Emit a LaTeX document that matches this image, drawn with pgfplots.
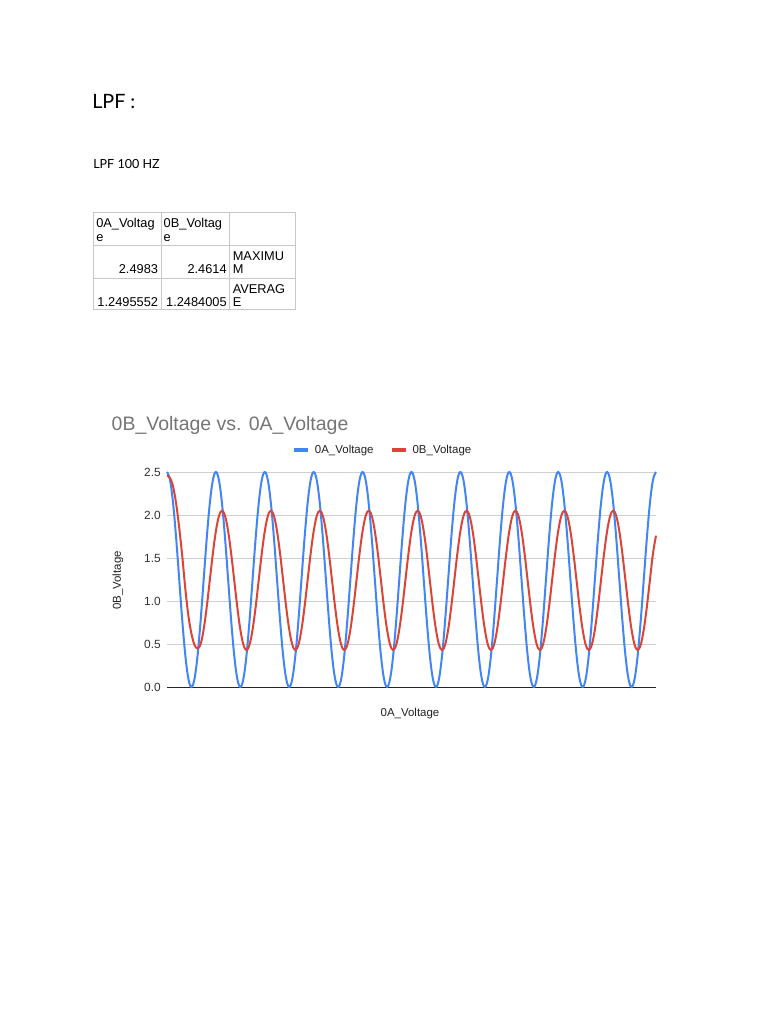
\documentclass[border=0pt]{standalone}
\usepackage{pgfplots}
\pgfplotsset{compat=1.18}
\usepackage{fontspec}
\setmainfont{Liberation Sans}
\newfontfamily\latofont{Lato}

\definecolor{gblue}{HTML}{4285F4}
\definecolor{gred}{HTML}{DB4437}
\definecolor{gridgray}{HTML}{D0D0D0}
\definecolor{titlegray}{HTML}{757575}
\definecolor{labelgray}{HTML}{222222}
\definecolor{tickgray}{HTML}{333333}
\definecolor{cellline}{HTML}{C8C8C8}

\newcommand{\chartfont}{\fontsize{8.6pt}{10pt}\selectfont}
\newcommand{\cellfont}{\fontsize{9.6pt}{11pt}\selectfont}

\begin{document}
\begin{tikzpicture}
% page (1px = 0.75pt, y downwards negative)
\path[fill=white] (0pt,0pt) rectangle (576pt,-768pt);

% headings
\node[anchor=base west, inner sep=0pt, font=\latofont\fontsize{14.8pt}{17pt}\selectfont] at (69pt,-81.25pt) {LPF :};
\node[anchor=base west, inner sep=0pt, font=\latofont\fontsize{9.4pt}{11pt}\selectfont] at (69.75pt,-126.25pt) {LPF 100 HZ};

% summary table
\begin{scope}[draw=cellline, line width=0.6pt]
  \draw (70pt,-159pt) rectangle (221.25pt,-231.75pt);
  \draw (120.75pt,-159pt) -- (120.75pt,-231.75pt);
  \draw (172pt,-159pt) -- (172pt,-231.75pt);
  \draw (70pt,-184.25pt) -- (221.25pt,-184.25pt);
  \draw (70pt,-209pt) -- (221.25pt,-209pt);
\end{scope}
\begin{scope}[every node/.style={inner sep=0pt, font=\cellfont}]
  \node[anchor=base west] at (72pt,-170.6pt) {0A\_Voltag};
  \node[anchor=base west] at (72pt,-180.8pt) {e};
  \node[anchor=base west] at (122.6pt,-170.6pt) {0B\_Voltag};
  \node[anchor=base west] at (122.6pt,-180.8pt) {e};
  \node[anchor=base west] at (174.4pt,-195.3pt) {MAXIMU};
  \node[anchor=base west] at (174.4pt,-205.2pt) {M};
  \node[anchor=base east] at (118.7pt,-205.2pt) {2.4983};
  \node[anchor=base east] at (170.2pt,-205.2pt) {2.4614};
  \node[anchor=base west] at (174.4pt,-220pt) {AVERAG};
  \node[anchor=base west] at (174.4pt,-229.8pt) {E};
  \node[anchor=base east] at (118.7pt,-229.8pt) {1.2495552};
  \node[anchor=base east] at (170.2pt,-229.8pt) {1.2484005};
\end{scope}

% chart texts
\node[anchor=base west, inner sep=0pt, text=titlegray, font=\fontsize{14.6pt}{17pt}\selectfont] at (83.6pt,-322.5pt) {0B\_Voltage vs. 0A\_Voltage};
\node[inner sep=0pt, text=labelgray, font=\chartfont, rotate=90] at (88.5pt,-435.4pt) {0B\_Voltage};
\node[inner sep=0pt, text=labelgray, font=\chartfont] at (307.5pt,-535.5pt) {0A\_Voltage};

\begin{axis}[
    at={(125.25pt,-515.25pt)}, anchor=south west,
    scale only axis,
    width=366.75pt, height=161.25pt,
    xmin=0, xmax=160,
    ymin=0, ymax=2.5,
    xtick=\empty,
    ytick={0,0.5,1,1.5,2,2.5},
    ymajorgrids=true,
    grid style={draw=gridgray, line width=0.6pt},
    extra y ticks={0},
    extra y tick labels={},
    extra y tick style={grid style={draw=black!85, line width=0.75pt}},
    axis line style={draw=none},
    major tick style={draw=none},
    /pgf/number format/assume math mode=true,
    yticklabel style={font=\fontsize{8.9pt}{10pt}\selectfont, text=tickgray, inner sep=0pt, xshift=-4.5pt,
        /pgf/number format/fixed, /pgf/number format/fixed zerofill,
        /pgf/number format/precision=1},
    clip=false,
    legend columns=2,
    legend style={at={(0.444,1.102)}, anchor=center, draw=none, fill=none,
        font=\chartfont, text=labelgray, inner sep=0pt,
        nodes={inner xsep=3.75pt, inner ysep=0pt, anchor=west},
        /tikz/every even column/.append style={column sep=8.25pt}},
    legend image code/.code={\draw[#1, line width=3pt] (0pt,0pt) -- (10.5pt,0pt);},
]
\addplot[gblue, line width=1.5pt, smooth, tension=0.6] coordinates {
(0,2.5)(1,2.405)(2,2.134)(3,1.728)(4,1.25)(5,0.772)(6,0.366)(7,0.095)(8,0)(9,0.095)(10,0.366)(11,0.772)(12,1.25)(13,1.728)(14,2.134)(15,2.405)
(16,2.5)(17,2.405)(18,2.134)(19,1.728)(20,1.25)(21,0.772)(22,0.366)(23,0.095)(24,0)(25,0.095)(26,0.366)(27,0.772)(28,1.25)(29,1.728)(30,2.134)(31,2.405)
(32,2.5)(33,2.405)(34,2.134)(35,1.728)(36,1.25)(37,0.772)(38,0.366)(39,0.095)(40,0)(41,0.095)(42,0.366)(43,0.772)(44,1.25)(45,1.728)(46,2.134)(47,2.405)
(48,2.5)(49,2.405)(50,2.134)(51,1.728)(52,1.25)(53,0.772)(54,0.366)(55,0.095)(56,0)(57,0.095)(58,0.366)(59,0.772)(60,1.25)(61,1.728)(62,2.134)(63,2.405)
(64,2.5)(65,2.405)(66,2.134)(67,1.728)(68,1.25)(69,0.772)(70,0.366)(71,0.095)(72,0)(73,0.095)(74,0.366)(75,0.772)(76,1.25)(77,1.728)(78,2.134)(79,2.405)
(80,2.5)(81,2.405)(82,2.134)(83,1.728)(84,1.25)(85,0.772)(86,0.366)(87,0.095)(88,0)(89,0.095)(90,0.366)(91,0.772)(92,1.25)(93,1.728)(94,2.134)(95,2.405)
(96,2.5)(97,2.405)(98,2.134)(99,1.728)(100,1.25)(101,0.772)(102,0.366)(103,0.095)(104,0)(105,0.095)(106,0.366)(107,0.772)(108,1.25)(109,1.728)(110,2.134)(111,2.405)
(112,2.5)(113,2.405)(114,2.134)(115,1.728)(116,1.25)(117,0.772)(118,0.366)(119,0.095)(120,0)(121,0.095)(122,0.366)(123,0.772)(124,1.25)(125,1.728)(126,2.134)(127,2.405)
(128,2.5)(129,2.405)(130,2.134)(131,1.728)(132,1.25)(133,0.772)(134,0.366)(135,0.095)(136,0)(137,0.095)(138,0.366)(139,0.772)(140,1.25)(141,1.728)(142,2.134)(143,2.405)
(144,2.5)(145,2.405)(146,2.134)(147,1.728)(148,1.25)(149,0.772)(150,0.366)(151,0.095)(152,0)(153,0.095)(154,0.366)(155,0.772)(156,1.25)(157,1.728)(158,2.134)(159,2.405)
(160,2.5)
};
\addlegendentry{0A\_Voltage}
\addplot[gred, line width=1.5pt, smooth, tension=0.6] coordinates {
(0,2.46)(1,2.43)(2,2.33)(3,2.13)(4,1.85)(5,1.52)(6,1.14)(7,0.83)(8,0.62)(9,0.49)(10,0.45)(11,0.5)(12,0.67)(13,0.93)(14,1.24)(15,1.55)
(16,1.813)(17,1.988)(18,2.05)(19,1.988)(20,1.813)(21,1.55)(22,1.24)(23,0.93)(24,0.667)(25,0.492)(26,0.43)(27,0.492)(28,0.667)(29,0.93)(30,1.24)(31,1.55)
(32,1.813)(33,1.988)(34,2.05)(35,1.988)(36,1.813)(37,1.55)(38,1.24)(39,0.93)(40,0.667)(41,0.492)(42,0.43)(43,0.492)(44,0.667)(45,0.93)(46,1.24)(47,1.55)
(48,1.813)(49,1.988)(50,2.05)(51,1.988)(52,1.813)(53,1.55)(54,1.24)(55,0.93)(56,0.667)(57,0.492)(58,0.43)(59,0.492)(60,0.667)(61,0.93)(62,1.24)(63,1.55)
(64,1.813)(65,1.988)(66,2.05)(67,1.988)(68,1.813)(69,1.55)(70,1.24)(71,0.93)(72,0.667)(73,0.492)(74,0.43)(75,0.492)(76,0.667)(77,0.93)(78,1.24)(79,1.55)
(80,1.813)(81,1.988)(82,2.05)(83,1.988)(84,1.813)(85,1.55)(86,1.24)(87,0.93)(88,0.667)(89,0.492)(90,0.43)(91,0.492)(92,0.667)(93,0.93)(94,1.24)(95,1.55)
(96,1.813)(97,1.988)(98,2.05)(99,1.988)(100,1.813)(101,1.55)(102,1.24)(103,0.93)(104,0.667)(105,0.492)(106,0.43)(107,0.492)(108,0.667)(109,0.93)(110,1.24)(111,1.55)
(112,1.813)(113,1.988)(114,2.05)(115,1.988)(116,1.813)(117,1.55)(118,1.24)(119,0.93)(120,0.667)(121,0.492)(122,0.43)(123,0.492)(124,0.667)(125,0.93)(126,1.24)(127,1.55)
(128,1.813)(129,1.988)(130,2.05)(131,1.988)(132,1.813)(133,1.55)(134,1.24)(135,0.93)(136,0.667)(137,0.492)(138,0.43)(139,0.492)(140,0.667)(141,0.93)(142,1.24)(143,1.55)
(144,1.813)(145,1.988)(146,2.05)(147,1.988)(148,1.813)(149,1.55)(150,1.24)(151,0.93)(152,0.667)(153,0.492)(154,0.43)(155,0.492)(156,0.667)(157,0.93)(158,1.24)(159,1.55)
(160,1.76)
};
\addlegendentry{0B\_Voltage}
\end{axis}
\end{tikzpicture}
\end{document}
